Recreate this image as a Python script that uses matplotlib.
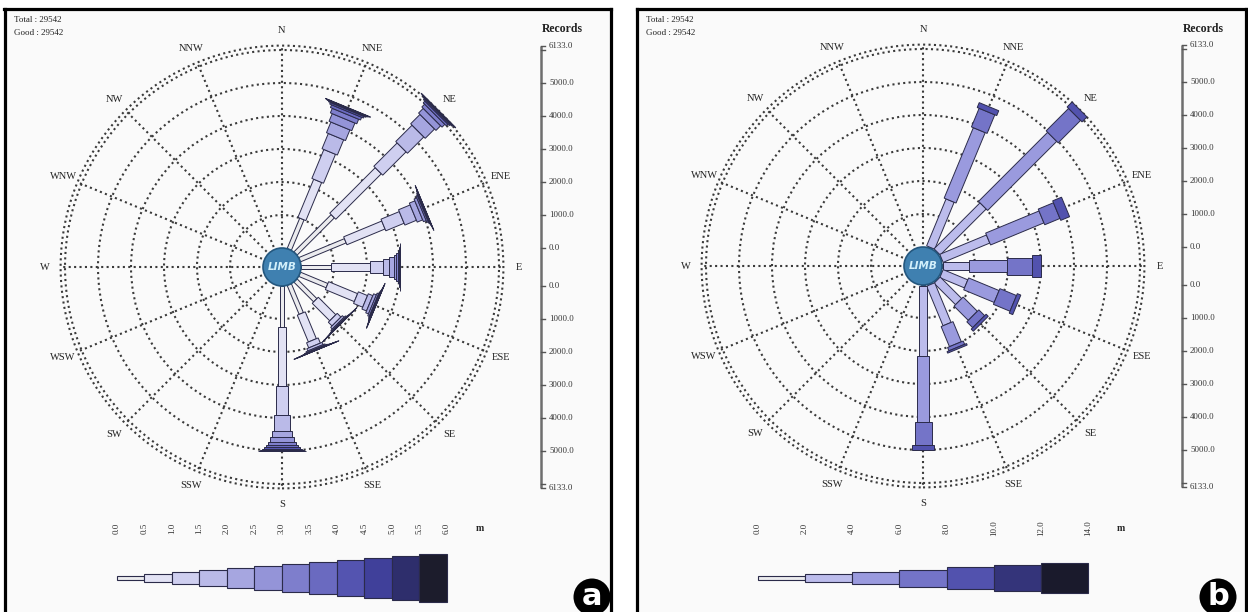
import numpy as np
import matplotlib.pyplot as plt
from matplotlib.patches import Circle, Polygon, Rectangle

plt.rcParams['font.family'] = ['Liberation Serif', 'DejaVu Serif']

compass = ['N', 'NNE', 'NE', 'ENE', 'E', 'ESE', 'SE', 'SSE',
           'S', 'SSW', 'SW', 'WSW', 'W', 'WNW', 'NW', 'NNW']
total_records = 29542
good_records = 29542
scale_max = 6133.0
rings = [1000, 2000, 3000, 4000, 5000, 6000, scale_max]
scale_ticks = [0, 1000, 2000, 3000, 4000, 5000, 6000, scale_max]
scale_labels = [0, 1000, 2000, 3000, 4000, 5000, scale_max]

# directions that have records; everything else is empty
petal_dirs = ['NNE', 'NE', 'ENE', 'E', 'ESE', 'SE', 'SSE', 'S']

# (a) 0.5 m classes
classes_a = [0.0, 0.5, 1.0, 1.5, 2.0, 2.5, 3.0, 3.5, 4.0, 4.5, 5.0, 5.5, 6.0]
counts_a = [
    [1000, 1250, 950, 500, 350, 250, 150, 90, 50, 30, 20, 10],   # NNE
    [1600, 1950, 1000, 700, 400, 200, 120, 70, 40, 25, 18, 10],  # NE
    [1500, 1250, 600, 380, 180, 90, 45, 25, 15, 8, 5, 2],        # ENE
    [900, 1200, 370, 210, 130, 80, 45, 25, 17, 11, 7, 5],        # E
    [900, 950, 300, 150, 90, 50, 25, 15, 9, 6, 3, 2],            # ESE
    [850, 750, 160, 70, 35, 16, 8, 5, 3, 1, 1, 1],               # SE
    [950, 880, 170, 75, 35, 18, 9, 5, 3, 2, 2, 1],               # SSE
    [1250, 1770, 900, 460, 200, 150, 100, 60, 40, 30, 25, 15],   # S
]

# (b) 2 m classes
classes_b = [0.0, 2.0, 4.0, 6.0, 8.0, 10.0, 12.0, 14.0]
counts_b = [
    [30, 1540, 2310, 610, 160, 0, 0],   # NNE
    [30, 1970, 2960, 960, 213, 0, 0],   # NE
    [30, 1530, 1750, 500, 290, 0, 0],   # ENE
    [30, 790, 1160, 760, 260, 0, 0],    # E
    [30, 810, 1000, 545, 115, 0, 0],    # ESE
    [30, 920, 610, 250, 90, 0, 0],      # SE
    [30, 1300, 660, 110, 50, 0, 0],     # SSE
    [30, 2110, 2020, 700, 140, 0, 0],   # S
]

colors_a = ['#ebebee', '#e2e2f4', '#cfcff0', '#babae8', '#a6a6e0', '#9494d8',
            '#7e7ecc', '#6a6ac0', '#5454b0', '#40409a', '#2e2e6c', '#1c1c2c']
colors_b = ['#ebebee', '#bcbcec', '#9a9ade', '#7474c8', '#5252ae', '#34347a', '#1a1a2c']

W, H = 1248, 612
PX = 0.033            # pixels per record along the radius
HUB = 19 / PX         # centre disc radius, in records
EDGE = '#2b2b4a'
GRID = dict(color='#3a3a3a', lw=1.5, ls=(0, (1, 1.6)))

fig = plt.figure(figsize=(W / 100, H / 100), dpi=100)


def px(v):
    return v / PX


def draw_panel(left, right, cx, cy, classes, counts, colors, hmax, letter, badge_x):
    top, bottom = 8.5, 640
    ax = fig.add_axes([left / W, 1 - bottom / H, (right - left) / W, (bottom - top) / H])
    ax.set_xlim(px(left - cx), px(right - cx))
    ax.set_ylim(px(cy - bottom), px(cy - top))
    ax.set_facecolor('#fafafa')
    ax.set_xticks([])
    ax.set_yticks([])
    for s in ('left', 'right', 'top'):
        ax.spines[s].set_linewidth(2.3)
    ax.spines['bottom'].set_visible(False)

    n = len(colors)
    halfw = [px(2.3 + (hmax - 2.3) * i / (n - 1)) for i in range(n)]

    # grid: dotted rings and spokes
    outer = HUB + scale_max
    for v in rings:
        ax.add_patch(Circle((0, 0), HUB + v, fill=False, zorder=1, **GRID))
    for i, name in enumerate(compass):
        th = np.deg2rad(22.5 * i)
        ax.plot([0, outer * np.sin(th)], [0, outer * np.cos(th)], zorder=1, **GRID)
        r = px(237)
        ax.text(r * np.sin(th), r * np.cos(th), name, ha='center', va='center',
                fontsize=7.5, color='#222222')

    # petals, one slab per class stacked outward
    for name, row in zip(petal_dirs, counts):
        th = np.deg2rad(22.5 * compass.index(name))
        u = np.array([np.sin(th), np.cos(th)])
        nv = np.array([np.cos(th), -np.sin(th)])
        r = HUB
        for c, w, col in zip(row, halfw, colors):
            if c <= 0:
                continue
            a, b = r, r + c
            pts = [a * u + w * nv, b * u + w * nv, b * u - w * nv, a * u - w * nv]
            ax.add_patch(Polygon(pts, closed=True, fc=col, ec=EDGE, lw=0.7, zorder=3))
            r = b

    ax.add_patch(Circle((0, 0), HUB, fc='#3f80b0', ec='#24577e', lw=1.2, zorder=5))
    ax.text(0, 0, 'LIMB', ha='center', va='center', fontsize=7.5, color='#d2f0fb',
            style='italic', weight='bold', family='DejaVu Sans', zorder=6)

    # records scale on the right
    sx = px(259)
    ax.plot([sx, sx], [-outer, outer], color='#6e6e6e', lw=1.8, solid_capstyle='butt')
    for sgn in (1, -1):
        for v in scale_ticks:
            y = sgn * (HUB + v)
            ax.plot([sx, sx + px(4)], [y, y], color='#555555', lw=1.0)
        for v in scale_labels:
            ax.text(sx + px(8), sgn * (HUB + v), f'{v:.1f}', ha='left', va='center',
                    fontsize=6.3, color='#333333')
    ax.text(sx + px(21), px(cy - 29), 'Records', ha='center', va='center',
            fontsize=8.5, weight='bold', color='#222222')

    ax.text(px(left + 10 - cx), px(cy - 20), f'Total : {total_records}', fontsize=6.5,
            va='center', color='#222222')
    ax.text(px(left + 10 - cx), px(cy - 33), f'Good : {good_records}', fontsize=6.5,
            va='center', color='#222222')

    # class legend
    seg = 330 / n
    ly = px(cy - 578)
    for i in range(n):
        xa = px(-165 + seg * i)
        ax.add_patch(Rectangle((xa, ly - halfw[i]), px(seg), 2 * halfw[i],
                               fc=colors[i], ec=EDGE, lw=0.8, zorder=3))
    for i, v in enumerate(classes):
        ax.text(px(-165 + seg * i), px(cy - 528), f'{v:.1f}', rotation=90,
                ha='center', va='center', fontsize=6.5, color='#333333')
    ax.text(px(198), px(cy - 528), 'm', ha='center', va='center', fontsize=7,
            weight='bold', color='#222222')

    # panel letter
    bx, by = px(badge_x - cx), px(cy - 597)
    ax.add_patch(Circle((bx, by), px(18.5), fc='black', ec='none', zorder=6))
    ax.text(bx, by + px(1), letter, ha='center', va='center', fontsize=22,
            weight='bold', color='white', family='DejaVu Sans', zorder=7)
    return ax


draw_panel(4.5, 611, 282, 267, classes_a, counts_a, colors_a, 24.3, 'a', 592)
draw_panel(636.5, 1245.5, 923, 266, classes_b, counts_b, colors_b, 14.7, 'b', 1218)

fig.savefig('out.png', dpi=100, facecolor='white')
